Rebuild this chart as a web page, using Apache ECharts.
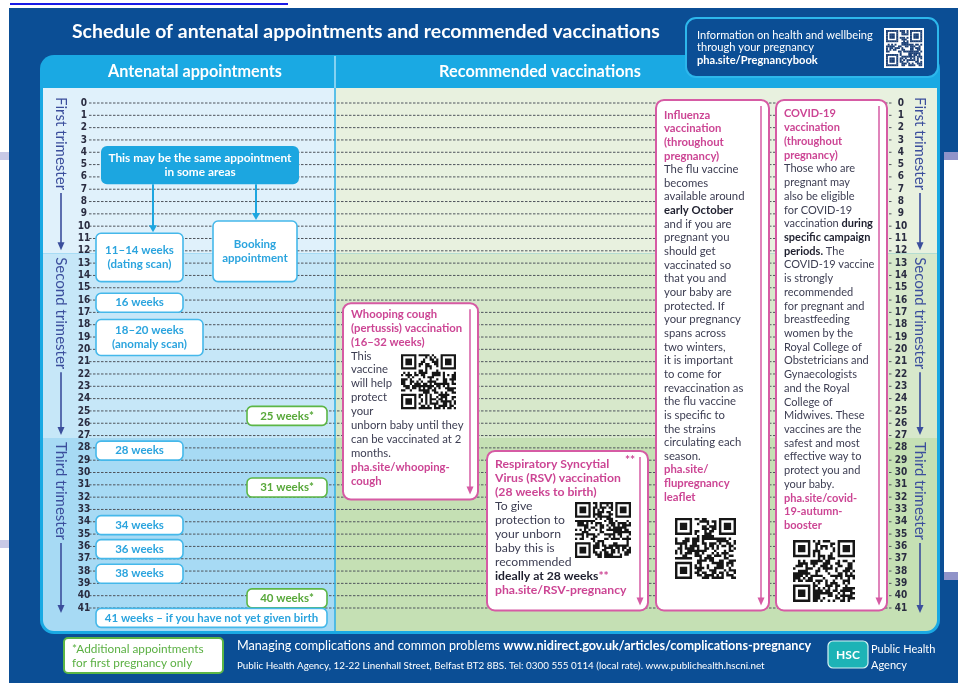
<!DOCTYPE html>
<html><head><meta charset="utf-8">
<script src="https://cdn.jsdelivr.net/npm/echarts@6/dist/echarts.min.js"></script>
<style>html,body{margin:0;padding:0;background:#fff}#c{width:958px;height:683px}</style>
</head><body><div id="c"></div>
<script>
// ---------------- DATA ----------------
const weekLabels = ['0','1','2','3','4','5','6','7','8','9','10','11','12','13','14','15','16','17','18','19','20',
  '21','22','23','24','25','26','27','28','29','30','31','32','33','34','35','36','37','38','39','40','41'];

const trimesterNames = ['First trimester', 'Second trimester', 'Third trimester'];
const trimesterStartWeek = [0, 13, 28];
const trimesterEndWeek = [12, 27, 41];

const apptLabels = ['11–14 weeks\n(dating scan)', 'Booking\nappointment', '16 weeks', '18–20 weeks\n(anomaly scan)',
  '25 weeks*', '28 weeks', '31 weeks*', '34 weeks', '36 weeks', '38 weeks', '40 weeks*',
  '41 weeks – if you have not yet given birth'];
const apptFromWeek = [11, 10, 16, 18, 25, 28, 31, 34, 36, 38, 40, 41];
const apptToWeek   = [14, 14, 16, 20, 25, 28, 31, 34, 36, 38, 40, 41];
const apptFirstPregnancyOnly = [false, false, false, false, true, false, true, false, false, false, true, false];
const sameApptNote = 'This may be the same appointment\nin some areas';

const vaccNames = ['Whooping cough', 'RSV', 'Influenza', 'COVID-19'];
const vaccFromWeek = [16, 28, 0, 0];
const vaccToWeek   = [32, 41, 41, 41];
const vaccTexts = [
  [[['t','Whooping cough']],[['t','(pertussis) vaccination']],[['t','(16–32 weeks)']],
   [['n','This']],[['n','vaccine']],[['n','will help']],[['n','protect']],[['n','your']],
   [['n','unborn baby until they']],[['n','can be vaccinated at 2']],[['n','months.']],
   [['l','pha.site/whooping-']],[['l','cough']]],
  [[['t','Respiratory Syncytial']],[['t','Virus (RSV) vaccination']],[['t','(28 weeks to birth)']],
   [['n','To give']],[['n','protection to']],[['n','your unborn']],[['n','baby this is']],[['n','recommended']],
   [['b','ideally at 28 weeks'],['s','**']],[['l','pha.site/RSV-pregnancy']]],
  [[['t','Influenza']],[['t','vaccination']],[['t','(throughout']],[['t','pregnancy)']],
   [['n','The flu vaccine']],[['n','becomes']],[['n','available around']],[['b','early October']],
   [['n','and if you are']],[['n','pregnant you']],[['n','should get']],[['n','vaccinated so']],
   [['n','that you and']],[['n','your baby are']],[['n','protected. If']],[['n','your pregnancy']],
   [['n','spans across']],[['n','two winters,']],[['n','it is important']],[['n','to come for']],
   [['n','revaccination as']],[['n','the flu vaccine']],[['n','is specific to']],[['n','the strains']],
   [['n','circulating each']],[['n','season.']],[['l','pha.site/']],[['l','flupregnancy']],[['l','leaflet']]],
  [[['t','COVID-19']],[['t','vaccination']],[['t','(throughout']],[['t','pregnancy)']],
   [['n','Those who are']],[['n','pregnant may']],[['n','also be eligible']],[['n','for COVID-19']],
   [['n','vaccination '],['b','during']],[['b','specific campaign']],[['b','periods.'],['n',' The']],
   [['n','COVID-19 vaccine']],[['n','is strongly']],[['n','recommended']],[['n','for pregnant and']],
   [['n','breastfeeding']],[['n','women by the']],[['n','Royal College of']],[['n','Obstetricians and']],
   [['n','Gynaecologists']],[['n','and the Royal']],[['n','College of']],[['n','Midwives. These']],
   [['n','vaccines are the']],[['n','safest and most']],[['n','effective way to']],[['n','protect you and']],
   [['n','your baby.']],[['l','pha.site/covid-']],[['l','19-autumn-']],[['l','booster']]]
];

const titleText = 'Schedule of antenatal appointments and recommended vaccinations';
const headerLeft = 'Antenatal appointments';
const headerRight = 'Recommended vaccinations';
const infoLines = ['Information on health and wellbeing', 'through your pregnancy', 'pha.site/Pregnancybook'];
const noteText = '*Additional appointments\nfor first pregnancy only';
const footer1a = 'Managing complications and common problems ';
const footer1b = 'www.nidirect.gov.uk/articles/complications-pregnancy';
const footer2 = 'Public Health Agency, 12-22 Linenhall Street, Belfast BT2 8BS. Tel: 0300 555 0114 (local rate). www.publichealth.hscni.net';
const logoText = 'HSC';
const orgLines = ['Public Health', 'Agency'];

// ---------------- LAYOUT / STYLE ----------------
const F = 'Lato, "Open Sans", "DejaVu Sans", sans-serif';
const NUMF = '"Liberation Sans Narrow", "DejaVu Sans Condensed", Roboto, sans-serif';
const DARK = '#0b4e95', CYAN = '#1aa9e3', PINK = '#cc4594', PINKB = '#d65ba4';
const BODY = '#3c3d52', BOLD = '#1e1f2e', TRIM = '#3b4e9c';
const L = {
  panelLeft: 43, panelRight: 937, panelTop: 88, panelBottom: 631, divX: 335,
  leftBand: ['#e0f1fb', '#c6e7f8', '#a7daf4'], rightBand: ['#e8f1df', '#d7e8cb', '#c5e0b4'],
  trimLeftX: 61, trimRightX: 920, trimFont: 15,
  lineX0: 89, lineX1: 893,
  apptX: [[96,183],[213,297],[96,183],[96,203],[247,327],[96,183],[247,327],[96,183],[96,183],[96,183],[247,327],[96,327]],
  apptDy: [0,0,0,0,0.18,0,0,0.05,0,0,0,0.58],
  apptFont: 11.5,
  noteX: [101, 299], noteWeeks: [3.5, 6.6], noteArrowX: [153, 256],
  vaccX: [[343,478],[487,648],[656,769],[776,887]],
  vaccTopPad: [0.25, 0.25, -0.25, -0.25],
  vaccLineH: [13.9, 14, 13.65, 13.72],
  vaccFont: [11.3, 12.2, 11.3, 11],
  vaccTextDy: [11, 13, 15, 14],
  vaccQr: [[58,51,55],[88,51,56],[19,418,61],[17,440,62]],
  vaccStars: [false, true, false, false]
};

const mctx = document.createElement('canvas').getContext('2d');
function textW(text, font) { mctx.font = font; return mctx.measureText(text).width; }
function fitSize(text, weight, family, width) { return 100 * width / textW(text, weight + ' 100px ' + family); }

// decorative code pattern (not data)
function cellHash(r, c, seed) {
  let h = (Math.imul(r + 1, 374761393) + Math.imul(c + 7, 668265263) + Math.imul(seed, 1442695041)) >>> 0;
  h = Math.imul(h ^ (h >>> 13), 1274126177) >>> 0;
  return (h ^ (h >>> 16)) >>> 0;
}
function qrModules(n, seed) {
  const cells = [];
  const corners = [[0,0],[0,n-7],[n-7,0]];
  const inF = (r, c) => {
    for (const [r0, c0] of corners) {
      const fr = r - r0, fc = c - c0;
      if (fr >= -1 && fr <= 7 && fc >= -1 && fc <= 7) {
        if (fr < 0 || fr > 6 || fc < 0 || fc > 6) return 0;
        return (fr === 0 || fr === 6 || fc === 0 || fc === 6 || (fr >= 2 && fr <= 4 && fc >= 2 && fc <= 4)) ? 1 : 0;
      }
    }
    return -1;
  };
  for (let r = 0; r < n; r++) for (let c = 0; c < n; c++) {
    let v = inF(r, c);
    if (v < 0) v = (cellHash(r, c, seed) % 100) < 56 ? 1 : 0;
    if (v) cells.push([r, c]);
  }
  return cells;
}
function qrPathData(n, seed) {
  return qrModules(n, seed).map(([r, c]) => 'M' + c + ' ' + r + 'h1v1h-1z').join('');
}
const QR = [qrPathData(25, 1), qrPathData(25, 2), qrPathData(25, 3), qrPathData(25, 4)];

function richStr(lines) {
  return lines.map(segs => segs.map(([k, t]) => '{' + k + '|' + t + '}').join('')).join('\n');
}

// ---------------- RENDERERS ----------------
function renderBands(params, api) {
  const i = params.dataIndex;
  const s = api.value(1), e = api.value(2);
  const last = i === trimesterStartWeek.length - 1;
  const y0 = i === 0 ? L.panelTop : api.coord([0, s - 0.8])[1];
  const y1 = last ? L.panelBottom : api.coord([0, e + 0.2])[1];
  const children = [
    {type: 'rect', shape: {x: L.panelLeft, y: y0, width: L.divX - L.panelLeft, height: y1 - y0, r: last ? [0,0,0,11] : 0}, style: {fill: L.leftBand[i]}},
    {type: 'rect', shape: {x: L.divX, y: y0, width: L.panelRight - L.divX, height: y1 - y0, r: last ? [0,0,11,0] : 0}, style: {fill: L.rightBand[i]}}
  ];
  const tStart = y0 + (i === 0 ? 9 : 4);
  const tip = last ? api.coord([0, e])[1] + 5 : y1 - 3;
  const tw = textW(trimesterNames[i], L.trimFont + 'px ' + F);
  [L.trimLeftX, L.trimRightX].forEach(x => {
    children.push({type: 'text', x: x, y: tStart, rotation: -Math.PI / 2,
      style: {text: trimesterNames[i], fontSize: L.trimFont, fontFamily: F, fill: TRIM, align: 'left', verticalAlign: 'middle'}});
    children.push({type: 'line', shape: {x1: x, y1: tStart + tw + 3, x2: x, y2: tip - 6}, style: {stroke: TRIM, lineWidth: 1.6}});
    children.push({type: 'polygon', shape: {points: [[x - 3.5, tip - 8], [x + 3.5, tip - 8], [x, tip]]}, style: {fill: TRIM}});
  });
  return {type: 'group', children};
}

function renderWeekLine(params, api) {
  const y = api.coord([0, api.value(1)])[1];
  const line = {type: 'line', shape: {x1: L.lineX0, y1: y, x2: L.lineX1, y2: y},
    style: {stroke: '#4f545c', lineWidth: 1, lineDash: [2.5, 1.5]}};
  if (params.dataIndex !== weekLabels.length - 1) return line;
  return {type: 'group', children: [line,
    {type: 'line', shape: {x1: L.divX, y1: L.panelTop, x2: L.divX, y2: L.panelBottom}, style: {stroke: '#2eafe6', lineWidth: 1.5}}]};
}

function renderAppt(params, api) {
  const i = params.dataIndex;
  const from = api.value(1), to = api.value(2);
  const [x0, x1] = L.apptX[i];
  let y0, y1;
  if (to > from) {
    y0 = api.coord([0, from - 0.42])[1]; y1 = api.coord([0, to + 0.5])[1];
  } else {
    const c = api.coord([0, from + 0.22 + L.apptDy[i]])[1]; y0 = c - 9.5; y1 = c + 9.5;
  }
  const green = apptFirstPregnancyOnly[i];
  const children = [
    {type: 'rect', shape: {x: x0, y: y0, width: x1 - x0, height: y1 - y0, r: 5},
      style: {fill: '#ffffff', stroke: green ? '#5cb646' : '#45b8ea', lineWidth: 1.6}},
    {type: 'text', x: (x0 + x1) / 2, y: (y0 + y1) / 2,
      style: {text: apptLabels[i], fill: green ? '#58a83a' : '#2ba4de', fontSize: L.apptFont, fontWeight: 'bold', fontFamily: F,
        align: 'center', verticalAlign: 'middle', lineHeight: 14}}
  ];
  if (i === 0) {
    const ny0 = api.coord([0, L.noteWeeks[0]])[1], ny1 = api.coord([0, L.noteWeeks[1]])[1];
    children.push({type: 'rect', shape: {x: L.noteX[0], y: ny0, width: L.noteX[1] - L.noteX[0], height: ny1 - ny0, r: 6}, style: {fill: '#1ca6e0'}});
    children.push({type: 'text', x: (L.noteX[0] + L.noteX[1]) / 2, y: (ny0 + ny1) / 2,
      style: {text: sameApptNote, fill: '#ffffff', fontSize: 11.8, fontWeight: 'bold', fontFamily: F, align: 'center', verticalAlign: 'middle', lineHeight: 14}});
    const targets = [y0, api.coord([0, apptFromWeek[1] - 0.42])[1]];
    L.noteArrowX.forEach((ax, k) => {
      const tip = targets[k] - 1;
      children.push({type: 'line', shape: {x1: ax, y1: ny1, x2: ax, y2: tip - 5}, style: {stroke: '#1ca6e0', lineWidth: 2}});
      children.push({type: 'polygon', shape: {points: [[ax - 4, tip - 7], [ax + 4, tip - 7], [ax, tip]]}, style: {fill: '#1ca6e0'}});
    });
  }
  return {type: 'group', children};
}

function renderVacc(params, api) {
  const i = params.dataIndex;
  const [x0, x1] = L.vaccX[i];
  const y0 = api.coord([0, api.value(1) + L.vaccTopPad[i]])[1];
  const y1 = api.coord([0, api.value(2) + 0.2])[1];
  const lh = L.vaccLineH[i];
  const fs = L.vaccFont[i];
  const ax = x1 - 8;
  const base = {fontSize: fs, fontFamily: F, lineHeight: lh};
  const rich = {
    t: Object.assign({fill: PINK, fontWeight: 'bold'}, base),
    n: Object.assign({fill: BODY}, base),
    b: Object.assign({fill: BOLD, fontWeight: 'bold'}, base),
    l: Object.assign({fill: PINK, fontWeight: 'bold'}, base),
    s: Object.assign({fill: PINK, fontWeight: 'bold'}, base)
  };
  const q = L.vaccQr[i];
  const children = [
    {type: 'rect', shape: {x: x0, y: y0, width: x1 - x0, height: y1 - y0, r: 8}, style: {fill: '#ffffff', stroke: PINKB, lineWidth: 2}},
    {type: 'line', shape: {x1: ax, y1: y0 + 6, x2: ax, y2: y1 - 11}, style: {stroke: PINKB, lineWidth: 1.5}},
    {type: 'polygon', shape: {points: [[ax - 3.5, y1 - 13], [ax + 3.5, y1 - 13], [ax, y1 - 5]]}, style: {fill: PINKB}},
    {type: 'text', x: x0 + 8, y: y0 + L.vaccTextDy[i] - lh / 2,
      style: {text: richStr(vaccTexts[i]), rich: rich, align: 'left', verticalAlign: 'top', fontSize: fs, fontFamily: F, lineHeight: lh}},
    {type: 'path', shape: {pathData: QR[i], x: x0 + q[0], y: y0 + q[1], width: q[2], height: q[2]}, style: {fill: '#161616'}}
  ];
  if (L.vaccStars[i]) children.push({type: 'text', x: x1 - 23, y: y0 + 9,
    style: {text: '**', fill: PINK, fontSize: 12, fontWeight: 'bold', fontFamily: F, align: 'left', verticalAlign: 'middle'}});
  return {type: 'group', children};
}

// ---------------- GRAPHIC DECORATION ----------------
const titleSize = fitSize(titleText, 'bold', F, 588);
const hLeftSize = fitSize(headerLeft, 'bold', F, 174);
const hRightSize = fitSize(headerRight, 'bold', F, 202);
const infoSize = fitSize(infoLines[0], 'normal', F, 176);
const f1Size = 100 * 575 / (textW(footer1a, '100px ' + F) + textW(footer1b, 'bold 100px ' + F));
const f2Size = fitSize(footer2, 'normal', F, 528);

const graphics = [
  {type: 'rect', z: -10, shape: {x: 10, y: 3, width: 278, height: 2}, style: {fill: '#1a1ae6'}},
  {type: 'rect', z: -10, shape: {x: 9, y: 8, width: 949, height: 675}, style: {fill: DARK}},
  {type: 'rect', z: -10, shape: {x: 944, y: 152, width: 14, height: 428}, style: {fill: '#ffffff'}},
  {type: 'rect', z: -10, shape: {x: 944, y: 152, width: 14, height: 8}, style: {fill: '#9093c9'}},
  {type: 'rect', z: -10, shape: {x: 944, y: 572, width: 14, height: 8}, style: {fill: '#9093c9'}},
  {type: 'rect', z: -10, shape: {x: 0, y: 152, width: 9, height: 8}, style: {fill: '#c8c9e6'}},
  {type: 'rect', z: -10, shape: {x: 0, y: 540, width: 9, height: 8}, style: {fill: '#c8c9e6'}},
  {type: 'rect', z: -9, shape: {x: 40, y: 55, width: 900, height: 579, r: 14}, style: {fill: CYAN}},
  {type: 'line', z: -8, shape: {x1: L.divX, y1: 56, x2: L.divX, y2: 88}, style: {stroke: '#a9e0f7', lineWidth: 1.5}},
  {type: 'text', z: -8, x: 72, y: 32, style: {text: titleText, fill: '#ffffff', fontSize: titleSize, fontWeight: 'bold', fontFamily: F, verticalAlign: 'middle'}},
  {type: 'text', z: -8, x: 195, y: 72, style: {text: headerLeft, fill: '#ffffff', fontSize: hLeftSize, fontWeight: 'bold', fontFamily: F, align: 'center', verticalAlign: 'middle'}},
  {type: 'text', z: -8, x: 540, y: 72, style: {text: headerRight, fill: '#ffffff', fontSize: hRightSize, fontWeight: 'bold', fontFamily: F, align: 'center', verticalAlign: 'middle'}},
  {type: 'rect', z: -8, shape: {x: 686, y: 18, width: 252, height: 59, r: 10}, style: {fill: DARK, stroke: '#2db7ec', lineWidth: 2}},
  {type: 'text', z: -7, x: 697, y: 35, style: {text: infoLines[0], fill: '#ffffff', fontSize: infoSize, fontFamily: F, verticalAlign: 'middle'}},
  {type: 'text', z: -7, x: 697, y: 47.5, style: {text: infoLines[1], fill: '#ffffff', fontSize: infoSize, fontFamily: F, verticalAlign: 'middle'}},
  {type: 'text', z: -7, x: 697, y: 60, style: {text: infoLines[2], fill: '#ffffff', fontSize: infoSize, fontWeight: 'bold', fontFamily: F, verticalAlign: 'middle'}},
  {type: 'rect', z: -7, shape: {x: 884, y: 28, width: 40, height: 40}, style: {fill: '#ffffff'}},
  {type: 'rect', z: -8, shape: {x: 64, y: 638, width: 159, height: 35, r: 4}, style: {fill: '#ffffff', stroke: '#5cb646', lineWidth: 2}},
  {type: 'text', z: -7, x: 72, y: 656, style: {text: noteText, fill: '#5bb043', fontSize: 11.8, fontFamily: F, lineHeight: 14, verticalAlign: 'middle'}},
  {type: 'text', z: -7, x: 237, y: 646, style: {text: '{a|' + footer1a + '}{b|' + footer1b + '}', verticalAlign: 'middle',
    rich: {a: {fill: '#ffffff', fontSize: f1Size, fontFamily: F}, b: {fill: '#ffffff', fontSize: f1Size, fontFamily: F, fontWeight: 'bold'}}}},
  {type: 'text', z: -7, x: 237, y: 666, style: {text: footer2, fill: '#ffffff', fontSize: f2Size, fontFamily: F, verticalAlign: 'middle'}},
  {type: 'rect', z: -8, shape: {x: 828, y: 641, width: 40, height: 27, r: 5}, style: {fill: '#1db3b6', stroke: '#d8f3f3', lineWidth: 1.2}},
  {type: 'text', z: -7, x: 848, y: 655, style: {text: logoText, fill: '#ffffff', fontSize: 12, fontWeight: 'bold', fontFamily: F, align: 'center', verticalAlign: 'middle'}},
  {type: 'text', z: -7, x: 871, y: 649, style: {text: orgLines[0], fill: '#ffffff', fontSize: 11, fontFamily: F, verticalAlign: 'middle'}},
  {type: 'text', z: -7, x: 871, y: 665, style: {text: orgLines[1], fill: '#ffffff', fontSize: 11, fontFamily: F, verticalAlign: 'middle'}}
];
const infoCell = 36 / 21;
qrModules(21, 5).forEach(([r, c]) => graphics.push({type: 'rect', z: -6,
  shape: {x: 886 + c * infoCell, y: 30 + r * infoCell, width: infoCell + 0.2, height: infoCell + 0.2}, style: {fill: '#1b3f75'}}));

// ---------------- CHART ----------------
const axisCommon = {
  type: 'value', min: 0, max: 41, interval: 1, inverse: true, z: 6,
  axisLine: {show: false}, axisTick: {show: false}, splitLine: {show: false}
};
const labelCommon = {fontSize: 10, fontWeight: 'bold', fontFamily: NUMF, color: '#2a2c40', align: 'center',
  showMinLabel: true, showMaxLabel: true, formatter: v => weekLabels[v]};

const chart = echarts.init(document.getElementById('c'), null, {renderer: 'canvas'});
chart.setOption({
  backgroundColor: '#ffffff',
  animation: false,
  grid: {left: 88, right: 65, top: 103, bottom: 75},
  xAxis: {type: 'value', min: 0, max: 1, show: false},
  yAxis: [
    Object.assign({}, axisCommon, {position: 'left', axisLabel: Object.assign({margin: 4}, labelCommon)}),
    Object.assign({}, axisCommon, {position: 'right', axisLabel: Object.assign({margin: 8}, labelCommon)})
  ],
  graphic: {elements: graphics},
  series: [
    {type: 'custom', name: 'trimesters', z: 1, silent: true, renderItem: renderBands,
      data: trimesterNames.map((n, i) => [0, trimesterStartWeek[i], trimesterEndWeek[i]])},
    {type: 'custom', name: 'weeks', z: 2, silent: true, renderItem: renderWeekLine,
      data: weekLabels.map(w => [0, Number(w)])},
    {type: 'custom', name: 'appointments', z: 3, silent: true, renderItem: renderAppt,
      data: apptLabels.map((n, i) => [0, apptFromWeek[i], apptToWeek[i]])},
    {type: 'custom', name: 'vaccinations', z: 3, silent: true, renderItem: renderVacc,
      data: vaccNames.map((n, i) => [0, vaccFromWeek[i], vaccToWeek[i]])}
  ]
});
</script>
</body></html>
